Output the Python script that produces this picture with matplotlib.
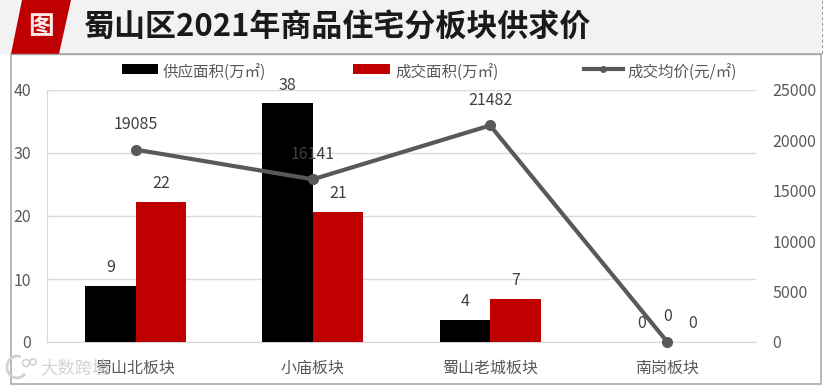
import matplotlib
matplotlib.use("Agg")
import matplotlib.pyplot as plt
from matplotlib.patches import Polygon, Rectangle, Circle, Arc

plt.rcParams['font.family'] = ['Noto Sans CJK SC', 'DejaVu Sans']

categories = ['蜀山北板块', '小庙板块', '蜀山老城板块', '南岗板块']
supply = [8.9, 37.9, 3.5, 0]
deal = [22.2, 20.6, 6.8, 0]
price = [19085, 16141, 21482, 0]
supply_labels = ['9', '38', '4', '0']
deal_labels = ['22', '21', '7', '0']
price_labels = ['19085', '16141', '21482', '0']
left_ticks = [0, 10, 20, 30, 40]
right_ticks = [0, 5000, 10000, 15000, 20000, 25000]
title = '蜀山区2021年商品住宅分板块供求价'
legend_names = ['供应面积(万㎡)', '成交面积(万㎡)', '成交均价(元/㎡)']

W, H = 831, 385
fig = plt.figure(figsize=(W / 100, H / 100), dpi=100, facecolor='white')

def fx(x): return x / W
def fy(y): return 1 - y / H

bg = fig.add_axes([0, 0, 1, 1], zorder=0)
bg.set_xlim(0, W); bg.set_ylim(H, 0); bg.axis('off')
bg.add_patch(Rectangle((0, 0), 821, 54, fc='#f2f2f2', ec='none'))
bg.add_patch(Rectangle((11, 54), 810, 330, fc='white', ec='#ababab', lw=1.2))
bg.plot([821.5, 821.5], [0, 54], color='#9a9a9a', lw=0.8, ls=(0, (3, 2)))
bg.plot([11, 821], [54, 54], color='#a8a8a8', lw=1.0)
bg.add_patch(Polygon([[22, 0], [71, 0], [59, 54], [11, 54]], fc='#c00000', ec='none'))
bg.text(40.5, 27, '图', color='#fbeaea', fontsize=18.5, fontweight='bold', ha='center', va='center')
bg.text(83, 28, title, color='#1a1a1a', fontsize=22.3, fontweight='bold', ha='left', va='center')

L, R, T, B = 47, 756, 90, 342
ax = fig.add_axes([fx(L), fy(B), (R - L) / W, (B - T) / H], zorder=1)
ax.patch.set_alpha(0)
x = list(range(len(categories)))
w = 0.285
ax.bar([i - w / 2 for i in x], supply, w, color='#000000', zorder=3)
ax.bar([i + w / 2 for i in x], deal, w, color='#c00000', zorder=3)
ax.set_xlim(-0.5, 3.5)
ax.set_ylim(0, 40)
ax.set_yticks(left_ticks)
ax.set_xticks(x, categories)
ax.grid(axis='y', color='#d9d9d9', lw=1, zorder=0)
ax.set_axisbelow(True)
ax.tick_params(length=0, colors='#595959')
ax.tick_params(axis='x', labelsize=11.5, pad=13)
ax.tick_params(axis='y', labelsize=11.5, pad=11.5)
for s in ['top', 'right']:
    ax.spines[s].set_visible(False)
ax.spines['left'].set_color('#d9d9d9')
ax.spines['bottom'].set_color('#d9d9d9')
for i in x:
    ax.annotate(supply_labels[i], (i - w / 2, supply[i]), xytext=(0, 7), textcoords='offset points',
                ha='center', va='bottom', fontsize=11.5, color='#404040', annotation_clip=False, zorder=6)
    ax.annotate(deal_labels[i], (i + w / 2, deal[i]), xytext=(0, 7), textcoords='offset points',
                ha='center', va='bottom', fontsize=11.5, color='#404040', annotation_clip=False, zorder=6)

ax2 = ax.twinx()
ax2.patch.set_alpha(0)
ax2.plot(x, price, color='#595959', lw=3.0, marker='o', ms=7, clip_on=False, zorder=5)
ax2.set_ylim(0, 25000)
ax2.set_yticks(right_ticks)
ax2.tick_params(length=0, colors='#595959', labelsize=11.5, pad=12)
for s in ax2.spines.values():
    s.set_visible(False)
for i in x:
    ax2.annotate(price_labels[i], (i, price[i]), xytext=(0, 12), textcoords='offset points',
                 ha='center', va='bottom', fontsize=11.5, color='#404040', annotation_clip=False, zorder=6)

# legend
legend_ax = fig.add_axes([0, 0, 1, 1], zorder=2)
legend_ax.set_xlim(0, W); legend_ax.set_ylim(H, 0); legend_ax.axis('off')
legend_ax.add_patch(Rectangle((122, 64), 36, 10, fc='#000000', ec='none'))
legend_ax.add_patch(Rectangle((353, 64), 37, 10, fc='#c00000', ec='none'))
legend_ax.plot([584, 623], [68.5, 68.5], color='#595959', lw=3.0)
legend_ax.plot([603], [68.5], 'o', color='#595959', ms=4)
for xp, name in zip([163, 395, 627], legend_names):
    legend_ax.text(xp, 73, name, fontsize=11.2, color='#595959', ha='left', va='center')

# watermark
wm = '#d2d2d2'
legend_ax.text(40, 368, '大数跨境', fontsize=12.5, color=wm, ha='left', va='center')
legend_ax.add_patch(Arc((17, 367), 20, 22, theta1=40, theta2=290, ec=wm, lw=2))
legend_ax.add_patch(Circle((26, 363), 3.5, fc='none', ec=wm, lw=1.2))
legend_ax.add_patch(Circle((33, 362), 3, fc='none', ec=wm, lw=1.2))

fig.savefig('out.png', dpi=100)
